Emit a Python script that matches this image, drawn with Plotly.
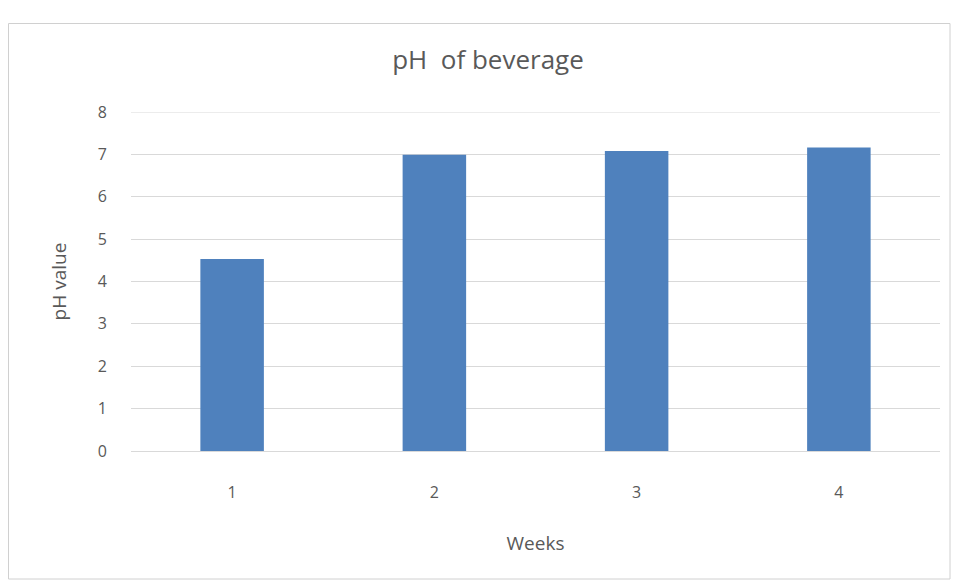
import plotly.graph_objects as go

weeks = ["1", "2", "3", "4"]
ph_values = [4.53, 6.99, 7.08, 7.16]
y_ticks = [0, 1, 2, 3, 4, 5, 6, 7, 8]

W, H = 955, 582
L, R, T, B = 131, 15, 112, 131

fig = go.Figure(go.Bar(x=weeks, y=ph_values, marker_color="#4F81BD",
                       marker_line_width=0))

font = "Open Sans"
grey = "#595959"
fig.update_layout(
    width=W, height=H,
    margin=dict(l=L, r=R, t=T, b=B),
    paper_bgcolor="white", plot_bgcolor="white",
    bargap=0.686,
    showlegend=False,
    title=dict(text="pH  of beverage", x=(488) / W, xanchor="center",
               y=1 - 60 / H, yanchor="middle",
               font=dict(family=font, size=26, color=grey)),
    font=dict(family=font, color=grey),
)
fig.update_xaxes(type="category", showgrid=False, showline=False, ticks="",
                 tickfont=dict(size=16, color=grey),
                 title=dict(text="Weeks", font=dict(size=19, color=grey), standoff=34),
                 ticklabelstandoff=30)
fig.update_yaxes(range=[0, 8], tickvals=y_ticks, showgrid=True, gridcolor="#D9D9D9",
                 gridwidth=1, zeroline=True, zerolinecolor="#D9D9D9", zerolinewidth=1,
                 showline=False, ticks="", tickfont=dict(size=16, color=grey),
                 ticklabelstandoff=23,
                 title=dict(text="pH value", font=dict(size=19, color=grey), standoff=26))

# top gridline at the axis maximum (plotly drops it at the range edge)
fig.add_shape(type="line", xref="paper", yref="y", x0=0, x1=1,
              y0=y_ticks[-1], y1=y_ticks[-1],
              line=dict(color="#D9D9D9", width=1), layer="below")

pw, ph = W - L - R, H - T - B
def px2x(p): return (p - L) / pw
def py2y(p): return (H - B - p) / ph
fig.add_shape(type="rect", xref="paper", yref="paper",
              x0=px2x(8.5), x1=px2x(950), y0=py2y(579), y1=py2y(23.5),
              line=dict(color="#D0D0D0", width=1), fillcolor="rgba(0,0,0,0)", layer="below")

fig.write_html("out.html")
